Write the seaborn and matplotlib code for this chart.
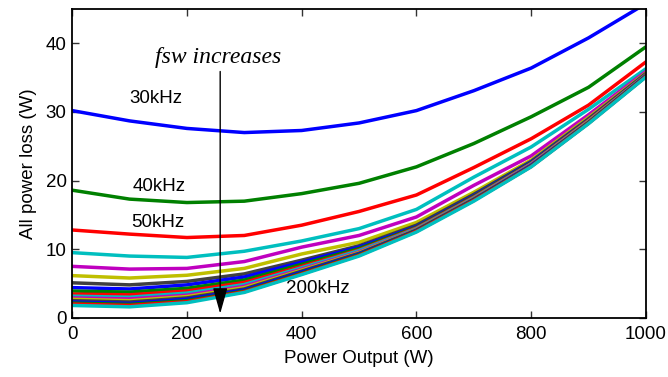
import numpy as np
import pandas as pd
import seaborn as sns
import matplotlib
matplotlib.use('Agg')
import matplotlib.pyplot as plt

# power output points (W)
power = [0, 100, 200, 300, 400, 500, 600, 700, 800, 900, 1000]

# all power loss (W), one list per switching frequency
loss_30k = [30.2, 28.7, 27.6, 27.0, 27.3, 28.4, 30.2, 33.1, 36.4, 40.8, 45.8]
loss_40k = [18.6, 17.3, 16.8, 17.0, 18.1, 19.6, 22.0, 25.4, 29.3, 33.6, 39.5]
loss_50k = [12.8, 12.2, 11.7, 12.0, 13.5, 15.5, 17.9, 21.9, 26.1, 31.0, 37.3]
loss_60k = [9.5, 9.0, 8.8, 9.7, 11.2, 13.0, 15.8, 20.5, 24.9, 30.4, 36.3]
loss_70k = [7.5, 7.1, 7.2, 8.2, 10.3, 12.0, 14.7, 19.3, 23.6, 29.6, 35.9]
loss_80k = [6.15, 5.8, 6.2, 7.2, 9.3, 11.0, 13.9, 18.3, 23.0, 29.2, 35.7]
loss_90k = [5.1, 4.8, 5.3, 6.4, 8.4, 10.5, 13.5, 18.0, 22.8, 29.0, 35.6]
loss_100k = [4.4, 4.2, 4.8, 5.95, 8.1, 10.3, 13.3, 17.8, 22.7, 28.9, 35.5]
loss_110k = [3.9, 3.75, 4.3, 5.5, 7.8, 10.1, 13.2, 17.7, 22.6, 28.85, 35.5]
loss_120k = [3.45, 3.35, 3.9, 5.15, 7.5, 9.9, 13.1, 17.6, 22.5, 28.8, 35.45]
loss_130k = [3.15, 3.0, 3.6, 4.85, 7.3, 9.8, 13.0, 17.5, 22.45, 28.7, 35.4]
loss_140k = [2.9, 2.75, 3.3, 4.6, 7.1, 9.6, 12.9, 17.4, 22.4, 28.65, 35.35]
loss_150k = [2.7, 2.5, 3.1, 4.4, 6.95, 9.5, 12.85, 17.35, 22.3, 28.6, 35.3]
loss_160k = [2.5, 2.3, 2.9, 4.2, 6.8, 9.4, 12.8, 17.3, 22.25, 28.5, 35.3]
loss_170k = [2.3, 2.1, 2.7, 4.05, 6.65, 9.3, 12.7, 17.2, 22.2, 28.45, 35.25]
loss_180k = [2.15, 1.95, 2.5, 3.9, 6.5, 9.2, 12.65, 17.15, 22.1, 28.4, 35.2]
loss_190k = [2.0, 1.8, 2.35, 3.8, 6.4, 9.1, 12.6, 17.1, 22.05, 28.35, 35.15]
loss_200k = [1.8, 1.6, 2.2, 3.7, 6.3, 9.0, 12.5, 17.0, 22.0, 28.3, 35.1]

freqs = ['30kHz', '40kHz', '50kHz', '60kHz', '70kHz', '80kHz', '90kHz', '100kHz', '110kHz',
         '120kHz', '130kHz', '140kHz', '150kHz', '160kHz', '170kHz', '180kHz', '190kHz', '200kHz']
losses = [loss_30k, loss_40k, loss_50k, loss_60k, loss_70k, loss_80k, loss_90k, loss_100k, loss_110k,
          loss_120k, loss_130k, loss_140k, loss_150k, loss_160k, loss_170k, loss_180k, loss_190k, loss_200k]

# old matlab colour order
matlab_colors = [(0, 0, 1), (0, 0.5, 0), (1, 0, 0), (0, 0.75, 0.75),
                 (0.75, 0, 0.75), (0.75, 0.75, 0), (0.25, 0.25, 0.25)]
palette = {f: matlab_colors[i % 7] for i, f in enumerate(freqs)}

rows = []
for f, l in zip(freqs, losses):
    for p, v in zip(power, l):
        rows.append({'power': p, 'loss': v, 'fsw': f})
df = pd.DataFrame(rows)

sns.set_style('ticks')
plt.rcParams['font.family'] = ['Liberation Sans', 'DejaVu Sans']
plt.rcParams['xtick.direction'] = 'in'
plt.rcParams['ytick.direction'] = 'in'
plt.rcParams['text.color'] = 'black'
plt.rcParams['axes.labelcolor'] = 'black'
plt.rcParams['xtick.labelcolor'] = 'black'
plt.rcParams['ytick.labelcolor'] = 'black'

fig = plt.figure(figsize=(6.68, 3.77), dpi=100)
ax = fig.add_axes([0.108, 0.157, 0.859, 0.819])

sns.lineplot(data=df, x='power', y='loss', hue='fsw', hue_order=freqs, palette=palette,
             legend=False, linewidth=2.5, ax=ax, sort=False)

ax.set_xlim(0, 1000)
ax.set_ylim(0, 45)
ax.set_xticks([0, 200, 400, 600, 800, 1000])
ax.set_yticks([0, 10, 20, 30, 40])
ax.tick_params(axis='both', labelsize=13.5, length=5, width=1, top=True, right=True, color='#333333')
ax.tick_params(axis='x', pad=6)
ax.tick_params(axis='y', pad=4)
for s in ax.spines.values():
    s.set_linewidth(1.3)
    s.set_color('black')
ax.set_xlabel('Power Output (W)', fontsize=13.5, labelpad=5)
ax.set_ylabel('All power loss (W)', fontsize=13.5, labelpad=6)

# curve labels
ax.text(146, 31.9, '30kHz', fontsize=13.5, ha='center', va='center')
ax.text(152, 19.1, '40kHz', fontsize=13.5, ha='center', va='center')
ax.text(149, 13.9, '50kHz', fontsize=13.5, ha='center', va='center')
ax.text(429, 4.2, '200kHz', fontsize=13.5, ha='center', va='center')

# arrow showing increasing switching frequency
ax.annotate('', xy=(258, 0.6), xytext=(258, 35.9),
            arrowprops=dict(arrowstyle='-|>,head_length=1.6,head_width=0.45',
                            color='black', lw=1, mutation_scale=10, shrinkA=0, shrinkB=0))
ax.text(255, 37.9, 'fsw increases', fontsize=17, ha='center', va='center',
        family=['Liberation Serif', 'DejaVu Serif'], style='italic')

plt.savefig('out.png', dpi=100)
